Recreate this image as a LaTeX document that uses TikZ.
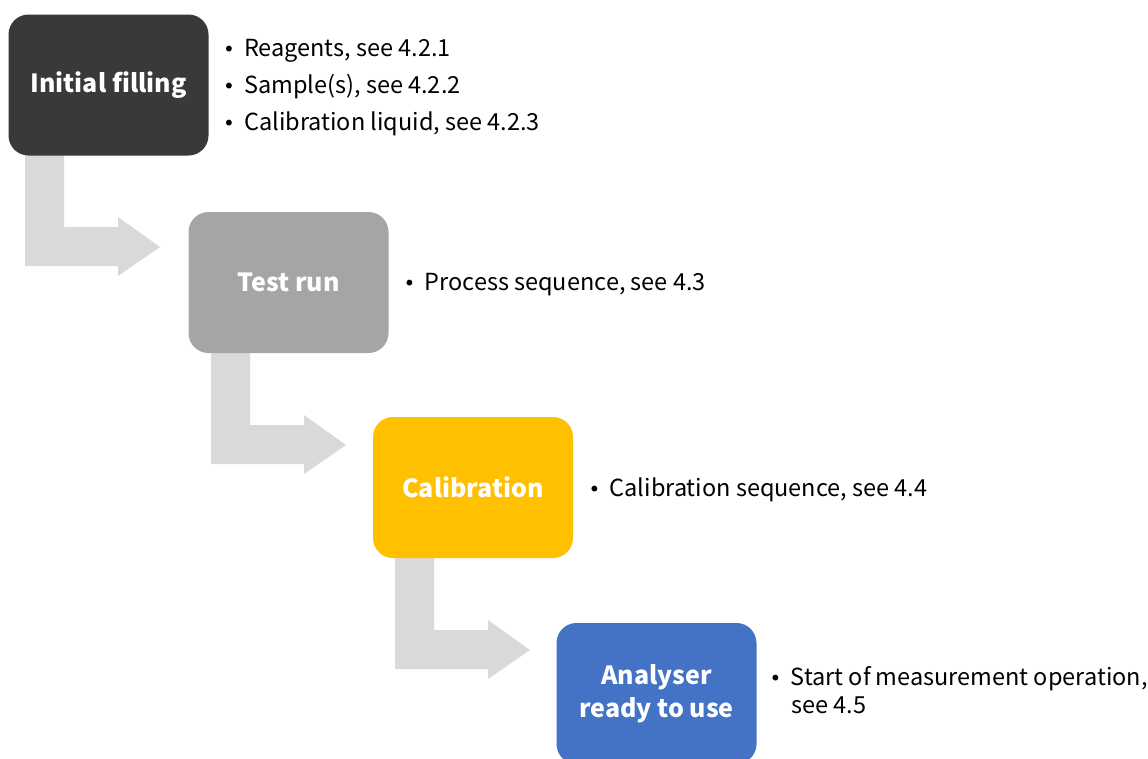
\documentclass[tikz,border=0pt]{standalone}
\usepackage{fontspec}
\setmainfont{Noto Sans CJK SC}
\newfontfamily\bulfont{DejaVu Sans}
\usetikzlibrary{calc}
\definecolor{cdark}{HTML}{3B3838}
\definecolor{cgray}{HTML}{A5A5A5}
\definecolor{cyel}{HTML}{FFC000}
\definecolor{cblue}{HTML}{4472C4}
\definecolor{carrow}{HTML}{D9D9D9}
\newcommand\bul{\makebox[21pt][l]{\bulfont\fontsize{20}{20}\selectfont •}}
\begin{document}
\begin{tikzpicture}[x=1pt,y=-1pt,
  stepbox/.style={rounded corners=20pt, minimum width=200pt, minimum height=141pt,
    inner sep=0pt, text=white, align=center, font=\fontsize{25}{36}\selectfont\bfseries},
  bullettext/.style={anchor=base west, inner sep=0pt, font=\fontsize{23.5}{28}\selectfont},
  flowarrow/.style={fill=carrow}]
\useasboundingbox (0,0) rectangle (1148,758);
\begin{scope}
\clip (0,0) rectangle (1148,758);
% arrows
\coordinate (a1) at ($(9,155)+(16,0)$);
\coordinate (a2) at (211,353);
\coordinate (a3) at (395,558);
\foreach \a in {a1,a2,a3}{
  \fill[flowarrow] (\a) -- ++(39,0) -- ++(0,72) -- ++(54,0) -- ++(0,-10) -- ++(42,30)
     -- ++(-42,29) -- ++(0,-10) -- ++(-93,0) -- cycle;
}
% boxes
\node[stepbox, fill=cdark] (b1) at (108.5,85) {Initial filling};
\node[stepbox, fill=cgray] (b2) at (288.5,282.5) {Test run};
\node[stepbox, fill=cyel] (b3) at (473,487.5) {Calibration};
\node[stepbox, fill=cblue] (b4) at (656.5,693.5) {Analyser\\[-3pt]ready to use};
\end{scope}
% bullet texts
\node[bullettext] (t11) at (223,56.5) {\bul Reagents, see 4.2.1};
\node[bullettext] (t12) at (223,93.5) {\bul Sample(s), see 4.2.2};
\node[bullettext] (t13) at (223,130.5) {\bul Calibration liquid, see 4.2.3};
\node[bullettext] (t2) at (403.5,290) {\bul Process sequence, see 4.3};
\node[bullettext] (t3) at (588.5,496) {\bul Calibration sequence, see 4.4};
\node[bullettext] (t4) at (769.5,685) {\bul Start of measurement operation,};
\node[bullettext] (t4b) at (791,713) {see 4.5};
\end{tikzpicture}
\end{document}
